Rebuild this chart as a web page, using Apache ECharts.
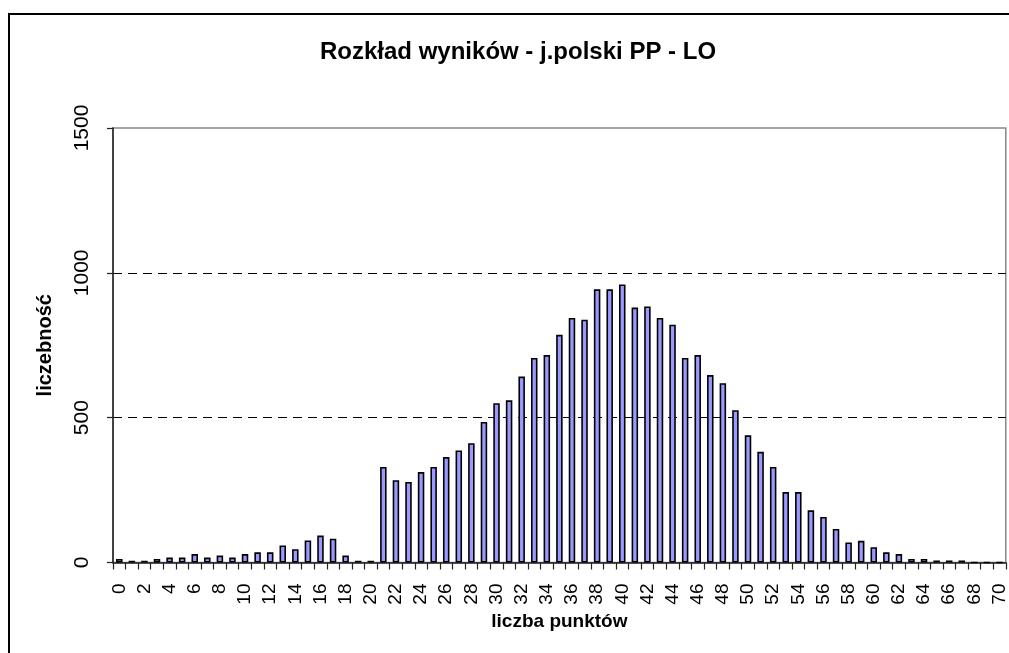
<!DOCTYPE html>
<html>
<head>
<meta charset="utf-8">
<script src="https://cdn.jsdelivr.net/npm/echarts@6/dist/echarts.min.js"></script>
<style>
    html, body { margin: 0; padding: 0; background: #fff; }
    #chart { width: 1009px; height: 653px; }
</style>
</head>
<body>
<div id="chart"></div>
<script type="text/javascript">
    // liczba punktów 0..70
    var punkty = [];
    for (var i = 0; i <= 70; i++) { punkty.push(String(i)); }
    // liczebność
    var liczebnosc = [
        12, 6, 6, 12, 17, 17, 29, 17, 24, 17,
        29, 35, 35, 59, 46, 76, 93, 82, 24, 6,
        6, 330, 284, 278, 312, 330, 364, 387, 412, 485,
        550, 560, 642, 706, 716, 786, 844, 838, 943, 943,
        960, 880, 884, 844, 821, 706, 716, 647, 619, 526,
        439, 382, 330, 243, 243, 180, 157, 116, 69, 75,
        53, 35, 29, 12, 12, 7, 7, 7, 0, 0,
        0
    ];
    var yTicks = [0, 500, 1000, 1500];

    var font = 'Liberation Sans, Arial, sans-serif';
    var myChart = echarts.init(document.getElementById('chart'));
    myChart.setOption({
        animation: false,
        title: {
            text: 'Rozkład wyników - j.polski PP - LO',
            left: 315,
            top: 35,
            textStyle: { color: '#000', fontSize: 24, fontWeight: 'bold', fontFamily: font }
        },
        graphic: [{
            type: 'rect',
            shape: { x: 9, y: 14, width: 1100, height: 700 },
            style: { fill: 'none', stroke: '#000', lineWidth: 2 },
            silent: true
        }],
        grid: {
            left: 113, top: 128, right: 2.5, bottom: 90.5,
            show: true, borderColor: '#888', borderWidth: 1.5, backgroundColor: '#fff'
        },
        xAxis: {
            type: 'category',
            data: punkty,
            name: 'liczba punktów',
            nameLocation: 'middle',
            nameGap: 50,
            nameTextStyle: { color: '#000', fontSize: 19, fontWeight: 'bold', fontFamily: font },
            axisLine: { lineStyle: { color: '#222', width: 1.5 } },
            axisTick: { show: true, interval: 0, length: 7, lineStyle: { color: '#222', width: 1.2 } },
            axisLabel: { interval: 1, rotate: 90, margin: 21, color: '#000', fontSize: 19, fontFamily: font }
        },
        yAxis: {
            type: 'value',
            min: yTicks[0],
            max: yTicks[yTicks.length - 1],
            interval: 500,
            name: 'liczebność',
            nameLocation: 'middle',
            nameRotate: 90,
            nameGap: 58,
            nameTextStyle: { color: '#000', fontSize: 20, fontWeight: 'bold', fontFamily: font },
            axisLine: { show: true, lineStyle: { color: '#222', width: 1.5 } },
            axisTick: { show: true, length: 6, lineStyle: { color: '#222', width: 1.2 } },
            axisLabel: {
                rotate: 90, margin: 20, color: '#000', fontSize: 21, fontFamily: font,
                formatter: function (v) { return String(v); }
            },
            splitLine: {
                show: true,
                showMinLine: false,
                showMaxLine: false,
                lineStyle: { color: '#000', type: [9, 6], width: 1 }
            }
        },
        series: [{
            name: 'liczebność',
            type: 'bar',
            data: liczebnosc,
            barWidth: 6.5,
            itemStyle: { color: '#9999FF', borderColor: '#000', borderWidth: 1.6 }
        }]
    });
</script>
</body>
</html>
